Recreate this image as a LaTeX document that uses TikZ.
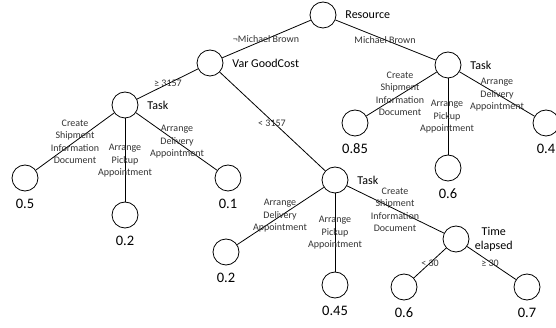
\documentclass[tikz,border=0pt]{standalone}
\usepackage{fontspec}
\setmainfont{Carlito}
\usepackage{tikz}

\begin{document}
\begin{tikzpicture}[x=1pt,y=-1pt,
  knot/.style={circle,draw,line width=0.8pt,minimum size=26pt,inner sep=0pt},
  leafval/.style={font=\fontsize{14.5}{15}\selectfont},
  attr/.style={font=\fontsize{12}{14}\selectfont},
  cond/.style={font=\fontsize{10}{12.5}\selectfont,align=center,text=black!80,inner sep=0pt}]

  \useasboundingbox (0,0) rectangle (556,328);
  \clip (0,0) rectangle (556,328);

  % split nodes
  \node[knot,label={[attr,label distance=5.5pt]right:Resource}] (res) at (323,15) {};
  \node[knot,label={[attr,label distance=5.5pt]right:Var GoodCost}] (cost) at (210,63) {};
  \node[knot,label={[attr,label distance=5.5pt]right:Task}] (taskL) at (125,105) {};
  \node[knot,label={[attr,label distance=5.5pt]right:Task}] (taskR) at (448,65) {};
  \node[knot,label={[attr,label distance=5.5pt]right:Task}] (taskM) at (335,180) {};
  \node[knot,label={[attr,align=center,label distance=2pt]right:Time\\elapsed}] (time) at (456,239) {};

  % leaves
  \node[knot,label={[leafval,label distance=4pt]below:0.5}] (leafLa) at (25,178) {};
  \node[knot,label={[leafval,label distance=4pt]below:0.2}] (leafLb) at (125,215) {};
  \node[knot,label={[leafval,label distance=4pt]below:0.1}] (leafLc) at (228,178) {};
  \node[knot,label={[leafval,label distance=4pt]below:0.85}] (leafRa) at (355,123) {};
  \node[knot,label={[leafval,label distance=4pt]below:0.6}] (leafRb) at (448,168) {};
  \node[knot,label={[leafval,label distance=4pt]below:0.4}] (leafRc) at (546,123) {};
  \node[knot,label={[leafval,label distance=4pt]below:0.2}] (leafMa) at (226,252) {};
  \node[knot,label={[leafval,label distance=4pt]below:0.45}] (leafMb) at (335,285) {};
  \node[knot,label={[leafval,label distance=4pt]below:0.6}] (leafTa) at (404,287) {};
  \node[knot,label={[leafval,label distance=4pt]below:0.7}] (leafTb) at (527,287) {};

  \draw[line width=0.8pt] (res) -- (cost);
  \draw[line width=0.8pt] (res) -- (taskR);
  \draw[line width=0.8pt] (cost) -- (taskL);
  \draw[line width=0.8pt] (cost) -- (taskM);
  \draw[line width=0.8pt] (taskL) -- (leafLa);
  \draw[line width=0.8pt] (taskL) -- (leafLb);
  \draw[line width=0.8pt] (taskL) -- (leafLc);
  \draw[line width=0.8pt] (taskR) -- (leafRa);
  \draw[line width=0.8pt] (taskR) -- (leafRb);
  \draw[line width=0.8pt] (taskR) -- (leafRc);
  \draw[line width=0.8pt] (taskM) -- (leafMa);
  \draw[line width=0.8pt] (taskM) -- (leafMb);
  \draw[line width=0.8pt] (taskM) -- (time);
  \draw[line width=0.8pt] (time) -- (leafTa);
  \draw[line width=0.8pt] (time) -- (leafTb);

  % branch labels
  \node[cond] (notmb) at (266,39) {¬Michael Brown};
  \node[cond] (mb) at (385,40) {Michael Brown};
  \node[cond] (hicost) at (168,83) {≥ 3157};
  \node[cond] (locost) at (272,123) {< 3157};

  \node[cond] (lcsid) at (75,142) {Create\\Shipment\\Information\\Document};
  \node[cond] (lapa) at (125,161) {Arrange\\Pickup\\Appointment};
  \node[cond] (lada) at (177,142) {Arrange\\Delivery\\Appointment};

  \node[cond] (rcsid) at (400,94) {Create\\Shipment\\Information\\Document};
  \node[cond] (rapa) at (447,117) {Arrange\\Pickup\\Appointment};
  \node[cond] (rada) at (497,95) {Arrange\\Delivery\\Appointment};

  \node[cond] (mada) at (280,216) {Arrange\\Delivery\\Appointment};
  \node[cond] (mapa) at (335,233) {Arrange\\Pickup\\Appointment};
  \node[cond] (mcsid) at (395,210) {Create\\Shipment\\Information\\Document};

  \node[cond] (short) at (430,263) {< 30};
  \node[cond] (long) at (490,263) {≥ 30};

\end{tikzpicture}
\end{document}
